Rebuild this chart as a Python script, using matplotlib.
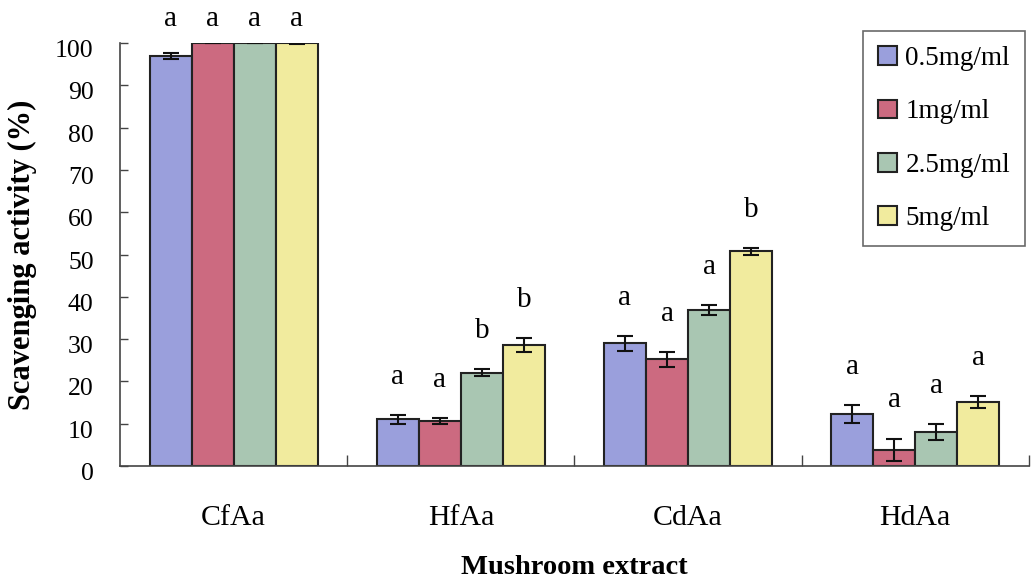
import numpy as np
import matplotlib
matplotlib.use("Agg")
from matplotlib import pyplot as plt
from matplotlib.transforms import ScaledTranslation

# Data
extracts = ["CfAa", "HfAa", "CdAa", "HdAa"]
doses = ["0.5mg/ml", "1mg/ml", "2.5mg/ml", "5mg/ml"]
mean_05 = [97.0, 11.0, 29.0, 12.3]
mean_1 = [100.0, 10.6, 25.2, 3.9]
mean_25 = [100.0, 22.1, 36.9, 8.1]
mean_5 = [100.0, 28.6, 50.8, 15.2]
err_05 = [0.7, 1.0, 1.7, 2.2]
err_1 = [0.0, 0.7, 1.7, 2.6]
err_25 = [0.0, 0.8, 1.2, 1.9]
err_5 = [0.3, 1.6, 0.8, 1.4]
letters_05 = ["a", "a", "a", "a"]
letters_1 = ["a", "a", "a", "a"]
letters_25 = ["a", "b", "a", "a"]
letters_5 = ["a", "b", "b", "a"]

means = [mean_05, mean_1, mean_25, mean_5]
errs = [err_05, err_1, err_25, err_5]
letters = [letters_05, letters_1, letters_25, letters_5]
colors = ["#9a9fdc", "#cc6a80", "#a9c6b2", "#f1eb9e"]

plt.rcParams['font.family'] = ['Liberation Serif', 'DejaVu Serif']

fig = plt.figure(figsize=(10.35, 5.85), dpi=100)
ax = fig.add_axes([0.116, 0.2034, 0.878, 0.7231])

x = np.arange(len(extracts))
width = 0.185
for i in range(len(doses)):
    pos = x + (i - 1.5) * width
    ax.bar(pos, means[i], width, color=colors[i], edgecolor="#222222",
           linewidth=1.5, label=doses[i], zorder=2)
    ax.errorbar(pos, means[i], yerr=errs[i], fmt="none", ecolor="#111111",
                elinewidth=1.5, capsize=6, capthick=1.5, zorder=3)
    # significance letters above each bar
    for p, m, e, t in zip(pos, means[i], errs[i], letters[i]):
        ax.text(p, min(m + e + 9, 105.6), t, ha="center", va="center",
                fontsize=21, clip_on=False)

ax.set_xlim(-0.5, len(extracts) - 0.5)
ax.set_ylim(0, 100)
ax.set_yticks(np.arange(0, 101, 10))
ax.tick_params(axis="y", direction="in", length=6, width=1, labelsize=18.5,
               pad=19, color="#444444")
# the scanned labels sit a little below their ticks
for lab in ax.get_yticklabels():
    lab.set_transform(lab.get_transform()
                      + ScaledTranslation(0, -4 / 72, fig.dpi_scale_trans))
ax.set_xticks(x)
ax.set_xticklabels(extracts, fontsize=21.5)
ax.tick_params(axis="x", length=0, pad=28)
# category boundary ticks pointing up from the axis
ax.set_xticks(np.arange(0.5, len(extracts), 1.0), minor=True)
ax.tick_params(axis="x", which="minor", direction="in", length=8, width=1,
               color="#444444")

for side in ["top", "right"]:
    ax.spines[side].set_visible(False)
ax.spines["left"].set_color("#444444")
ax.spines["bottom"].set_color("#444444")
ax.spines["left"].set_linewidth(1.2)
ax.spines["bottom"].set_linewidth(1.2)

ax.set_xlabel("Mushroom extract", fontsize=20.5, fontweight="bold")
ax.set_ylabel("Scavenging activity (%)", fontsize=22, fontweight="bold")
ax.xaxis.set_label_coords(0.5, -0.21)
ax.yaxis.set_label_coords(-0.091, 0.5)

leg = ax.legend(loc="upper right", bbox_to_anchor=(0.9956, 1.028),
                borderaxespad=0, fontsize=19.5, frameon=True, fancybox=False,
                edgecolor="#444444", handlelength=0.7, handleheight=0.7,
                handletextpad=0.3, labelspacing=1.05, borderpad=0.55)
leg.get_frame().set_linewidth(1.2)

plt.savefig("out.png", dpi=100)
